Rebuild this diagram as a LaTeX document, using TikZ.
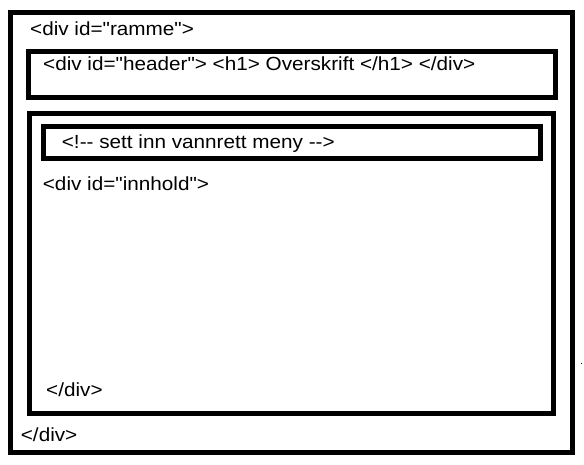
\documentclass[tikz,border=0pt]{standalone}
\usepackage{fontspec}
\newfontfamily\tagfont[FakeStretch=1.09]{Liberation Sans}
\usepackage{tikz}
\usetikzlibrary{positioning}
\tikzset{
  divbox/.style={draw=black, line width=5pt, outer sep=0pt, inner sep=0pt, anchor=north west},
  tag/.style={inner sep=0pt, anchor=base west, font=\tagfont\fontsize{19}{22}\selectfont}
}

\begin{document}
\begin{tikzpicture}[x=1pt, y=-1pt]
  \useasboundingbox[fill=white] (0,0) rectangle (584,464);

  \node[divbox, minimum width=562pt, minimum height=440pt] (ramme) at (10,12.5) {};
  \node[divbox, minimum width=526.5pt, minimum height=46pt] (header) at (28.5,51.7) {};
  \node[divbox, minimum width=524pt, minimum height=299.7pt] (innhold) at (29.3,113.3) {};
  \node[divbox, minimum width=496.5pt, minimum height=32pt] (meny) at (43.5,126.3) {};

  \node[tag] (rammestart) at (30,35) {<div id="ramme">};
  \node[tag] (headertekst) at (43,70.5) {<div id="header"> <h1> Overskrift </h1> </div>};
  \node[tag] (menytekst) at (61.7,148) {<!-- sett inn vannrett meny -->};
  \node[tag] (innholdstart) at (42.7,190.7) {<div id="innhold">};
  \node[tag] (innholdslutt) at (46,396.7) {</div>};
  \node[tag] (rammeslutt) at (20.7,441) {</div>};

  \fill (580.5,362.5) rectangle (582,364);
\end{tikzpicture}
\end{document}
